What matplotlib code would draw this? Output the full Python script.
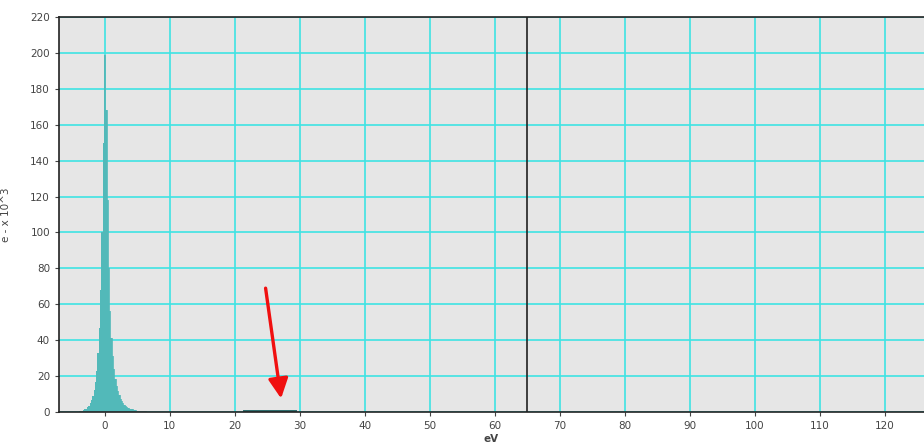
import numpy as np
import matplotlib.pyplot as plt

# Spectrum counts (e- x 10^3) on a 0.2 eV grid around the zero-loss peak
zlp_energy = np.linspace(-4.0, 6.4, 53)
zlp_counts = [
    0.2, 0.3, 0.5, 0.7, 1.0, 1.4, 1.9, 2.6, 3.5, 4.8, 6.5, 8.8, 12, 16.5,
    23, 33, 47, 68, 100, 150, 199,
    168, 118, 80, 56, 41, 31, 24, 18.5, 14.5, 11.5, 9.2, 7.4, 6.0, 4.9,
    4.0, 3.3, 2.7, 2.3, 1.9, 1.6, 1.4, 1.2, 1.0, 0.9, 0.8, 0.7, 0.6,
    0.55, 0.5, 0.45, 0.4, 0.3,
]

# Weak plasmon region
plasmon_energy = [21.5, 22.5, 23.5, 24.5, 25.5, 26.5, 27.5, 28.5, 29.5]
plasmon_counts = [0.3, 0.5, 0.7, 0.8, 0.8, 0.8, 0.7, 0.6, 0.5]

marker_ev = 65
x_ticks = list(range(0, 130, 10))
y_ticks = list(range(0, 240, 20))

fill_color = "#52b9b9"
grid_color = "#3fe3e3"

fig = plt.figure(figsize=(9.24, 4.43), dpi=100)
ax = fig.add_axes([0.0639, 0.070, 0.9361, 0.8916])
ax.set_facecolor("#e6e6e6")

ax.fill_between(zlp_energy, zlp_counts, step="mid", color=fill_color, linewidth=0)
ax.step(zlp_energy, zlp_counts, where="mid", color=fill_color, linewidth=0.6)
ax.step(plasmon_energy, plasmon_counts, where="mid", color="#2a6a6a", linewidth=1.4)

ax.axvline(marker_ev, color="#222222", linewidth=1.2, zorder=3)

ax.annotate(
    "",
    xy=(27.2, 6.0),
    xytext=(24.7, 70.5),
    arrowprops=dict(
        arrowstyle="-|>,head_width=0.6,head_length=1.2",
        color="#f01010",
        linewidth=2.4,
    ),
)

ax.set_xlim(-7, 126)
ax.set_ylim(0, 220)
ax.set_xticks(x_ticks)
ax.set_yticks(y_ticks)
ax.grid(True, color=grid_color, linewidth=1.2)
ax.set_axisbelow(True)

for side in ("left", "bottom", "top"):
    ax.spines[side].set_color("#222222")
    ax.spines[side].set_linewidth(1.2)
ax.spines["right"].set_visible(False)

ax.tick_params(axis="both", direction="out", length=3, width=0.8,
               labelsize=7.5, labelcolor="#444444", color="#444444")
ax.set_xlabel("eV", fontsize=7.5, color="#444444", fontweight="bold", labelpad=2)
ax.set_ylabel("e - x 10^3", fontsize=7.5, color="#444444", labelpad=14)

fig.savefig("out.png", dpi=100)
